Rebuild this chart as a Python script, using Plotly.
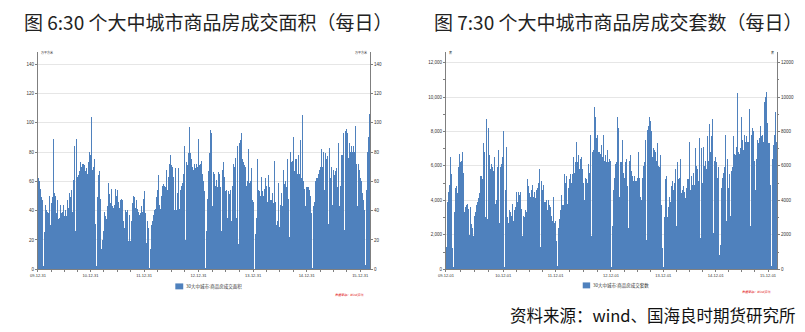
import plotly.graph_objects as go

W, H = 805, 332

# 30 large/medium cities: transaction floor area (10k m2) and transaction units
area_tick_labels = ["09-12-31", "10-12-31", "11-12-31", "12-12-31", "13-12-31", "14-12-31", "15-12-31"]
sets_tick_labels = ["09-12-01", "10-12-01", "11-12-01", "12-12-01", "13-12-01", "14-12-01", "15-12-01"]

area_values = [
    62, 60, 55, 49, 47, 2, 25, 44, 40, 39,
    38, 50, 30, 45, 49, 89, 52, 50, 38, 47,
    34, 35, 44, 38, 39, 44, 36, 40, 36,
    47, 42, 52, 49, 54, 39, 61, 84, 26, 89,
    63, 64, 67, 73, 70, 72, 72, 71, 67, 69,
    65, 73, 80, 78, 104, 68, 70, 75, 71, 31,
    2, 49, 64, 67, 48, 14, 20, 26, 39, 36,
    34, 43, 59, 51, 45, 55, 43, 42, 44, 55,
    50, 54, 46, 42, 47, 48, 47, 33, 28, 40,
    39, 40, 19, 37, 19, 33, 45, 50, 49, 42,
    47, 41, 39, 37, 38, 43, 39, 48, 53,
    38, 18, 33, 28, 1, 14, 30, 33, 37,
    40, 41, 49, 54, 64, 44, 41, 50, 57, 58,
    57, 56, 68, 54, 63, 72, 78, 71, 70, 63,
    40, 69, 40, 52, 69, 41, 54, 57, 59, 65,
    84, 20, 73, 71, 79, 97, 79, 75, 70, 68,
    72, 69, 72, 70, 89, 71, 72, 74, 65, 60,
    53, 1, 26, 48, 55, 67, 79, 95, 93, 43,
    66, 65, 57, 61, 56, 66, 65, 56, 26, 68,
    73, 63,
    53, 54, 35, 53, 51, 54, 33, 57, 72, 70, 76, 35, 84, 17, 86, 88, 93, 75, 73, 71,
    70, 57, 60, 82, 59, 60, 69, 47, 46, 0,
    24, 35, 75, 54, 53, 50, 63, 53, 50, 55, 62, 57, 46, 64, 56, 47, 47, 52, 45, 74,
    46, 30, 33, 59, 29, 44, 52, 43, 68, 58, 60, 56, 75, 48, 22, 80, 73, 74, 90, 67,
    75, 75, 65, 78, 65, 88, 62, 105, 60, 55, 43, 56, 56, 56, 54, 50, 38, 1,
    43, 46, 60, 62, 62, 65, 68, 70, 82, 72, 70, 80, 54, 79, 75, 77, 31, 83, 62, 70,
    44, 68, 64, 67, 69, 56, 86, 43, 57, 78, 78, 93, 27, 94, 96, 93, 76, 86, 80, 84,
    80, 84, 80, 98, 72, 43, 72, 68, 62, 60, 52, 47, 40, 3,
    54, 80, 90, 106,
]

sets_values = [
    1300, 3900, 4500, 4900, 6500, 5500, 1200, 100, 3300, 4700,
    4800, 4400, 5900, 6700, 6200, 6300, 6800, 5600, 3300, 3600,
    3700, 3800, 3500, 2000, 3600, 2600, 2400, 1900, 3100, 3300,
    3700, 3900, 4100, 4400, 5400, 5400, 5200, 7300, 6800, 3000,
    8700, 2900, 8200, 7500, 6600, 5800, 6100, 5900, 5700, 6500,
    3800, 4000, 5900, 6900, 2700, 5900, 6100, 6500, 8000, 100,
    4600, 7100, 3000, 2700, 3400, 3300, 3100, 3800, 2800, 3400,
    3600, 4500, 3900, 4500, 4300, 4500, 3500, 1900, 3100, 3000,
    3400, 3300, 5200, 4800, 4400, 4200, 4600, 4900, 4200, 4500,
    4100, 4600, 4700, 5000, 5800, 1300, 5100, 4600, 4900, 3900,
    3900, 4000, 3400, 4000, 3700, 3600, 3100, 2800, 4200, 2700,
    2800, 1600, 200,
    2400, 2900, 3400, 4300, 3700, 3700, 5500, 5000, 5400, 3800,
    4700, 5200, 5500, 5000, 5500, 5100, 6500, 5600, 6200,
    7400, 6200, 6600, 5800, 6400, 6500, 5800, 5000, 4000, 5300,
    5200, 5000, 6100, 5600, 7800, 1900, 6800, 6900, 9400, 8800,
    7600, 7800, 6800, 6800, 6700, 7200, 6500, 7800, 6300, 6600,
    6200, 6900, 6200, 6400, 6300, 100,
    2500, 4600, 5300, 6100, 6200, 8800, 8200, 4200, 6200, 6200,
    7500, 5600, 5300, 6200, 6400, 4800, 2400, 6300, 6600, 5700,
    5400, 5100, 5400, 5100, 5100, 5300, 6800, 5300, 4200, 4000,
    5300, 6000, 6200, 7500, 1700, 8100, 8300, 8800, 8600, 8000,
    6500, 7000, 6900, 6800, 6300, 6100, 7300, 6000, 5900, 6600,
    3700, 1200, 100,
    3000, 5200, 5400, 3000, 3600, 4200, 3900, 4800, 5100, 4600,
    5000, 5800, 2500, 6200, 5200, 5300, 6400, 4400, 4600, 4800,
    4500, 4100, 4700, 5200, 5200, 7400, 4600, 5400, 4900, 5600,
    4900, 7000, 6000, 5800, 5100, 7600, 1800, 7000, 5000, 7100,
    6000, 6300, 5800, 7700, 6300, 8400, 6800, 7700, 8700, 2100,
    6300, 6500, 6200, 5300, 5900, 800,
    1400, 4700, 5300, 5600, 5900, 7800, 2800, 6400, 4700, 5500,
    3100, 5700, 5900, 7700, 6700, 6600, 7100, 10200, 6800, 6700,
    7000, 8800, 6000, 7500, 6900, 7800, 7400, 7700, 7400, 7400,
    9300, 2500, 7800, 8200, 8000, 6300, 4600, 6400, 7500, 7300,
    7600, 8300, 7700, 7800, 7400, 9700, 10000, 10300, 8500, 7300,
    7300, 4900, 200,
    6400, 7200, 7800, 9100, 7400,
]

area_tick_pos = [-0.5, 52.5, 106.5, 161.5, 216.5, 270.5, 324.5]
sets_tick_pos = [-0.5, 57.5, 110.5, 166.5, 219.5, 272.5, 325.5]

# alpha just under 1 makes plotly snap each 1px bar to whole pixels,
# so the near-zero weeks stay visible as thin white gaps
BAR = "rgba(79,129,189,0.999)"
BAR_SOLID = "#4F81BD"
AXIS = "#7f7f7f"
GRID = "#e6e6e6"
TXT = "#333333"
CJK = "Noto Sans CJK SC"


def fx(px):
    return px / W


def fy(py):
    return 1 - py / H


def minor_between(pos):
    vals = []
    for a, b in zip(pos[:-1], pos[1:]):
        step = (b - a) / 4
        vals += [a + step * k for k in (1, 2, 3)]
    step = (pos[-1] - pos[-2]) / 4
    vals.append(pos[-1] + step)
    return vals


bar_marker = dict(color=BAR, line=dict(width=0))

fig = go.Figure()
fig.add_trace(go.Bar(x=list(range(len(area_values))), y=area_values, marker=bar_marker,
                     xaxis="x", yaxis="y", name="30大中城市:商品房成交面积", showlegend=False))
fig.add_trace(go.Scatter(x=[0], y=[0], xaxis="x", yaxis="y2", mode="markers", marker=dict(opacity=0),
                         hoverinfo="skip", showlegend=False))
fig.add_trace(go.Bar(x=list(range(len(sets_values))), y=sets_values, marker=bar_marker,
                     xaxis="x2", yaxis="y3", name="30大中城市:商品房成交套数", showlegend=False))
fig.add_trace(go.Scatter(x=[0], y=[0], xaxis="x2", yaxis="y4", mode="markers", marker=dict(opacity=0),
                         hoverinfo="skip", showlegend=False))

ydom = [fy(271.7), fy(52.7)]
tickfont = dict(family="Liberation Sans", size=4.5, color=TXT)

common_x = dict(ticks="outside", ticklen=2, tickcolor=AXIS, showline=True, linecolor=AXIS, linewidth=1,
                showgrid=False, zeroline=False, tickfont=dict(family="Liberation Sans", size=4, color=TXT),
                tickmode="array")
common_y = dict(ticks="outside", ticklen=2, tickcolor=AXIS, showline=True, linecolor=AXIS, linewidth=1,
                zeroline=False, tickfont=tickfont, domain=ydom)

area_max = 148.3
sets_max = 12600

fig.update_layout(
    width=W, height=H, margin=dict(l=0, r=0, t=0, b=0), autosize=False,
    paper_bgcolor="white", plot_bgcolor="white", bargap=0, showlegend=False,
    xaxis=dict(domain=[fx(30.3), fx(365.7)], anchor="y", range=[-0.5, len(area_values) - 0.5],
               tickvals=area_tick_pos, ticktext=area_tick_labels,
               minor=dict(tickvals=minor_between(area_tick_pos), ticks="outside", ticklen=1.5, tickcolor=AXIS),
               **common_x),
    yaxis=dict(anchor="x", range=[0, area_max], dtick=20, tick0=0, showgrid=True, gridcolor=GRID, gridwidth=1,
               **common_y),
    yaxis2=dict(anchor="x", overlaying="y", side="right", range=[0, area_max], dtick=20, tick0=0,
                showgrid=False, **common_y),
    xaxis2=dict(domain=[fx(442.3), fx(776.7)], anchor="y3", range=[-0.5, len(sets_values) - 0.5],
                tickvals=sets_tick_pos, ticktext=sets_tick_labels,
                minor=dict(tickvals=minor_between(sets_tick_pos), ticks="outside", ticklen=1.5, tickcolor=AXIS),
                **common_x),
    yaxis3=dict(anchor="x2", range=[0, sets_max], dtick=2000, tick0=0, tickformat=",d", showgrid=True,
                gridcolor=GRID, gridwidth=1,
                minor=dict(dtick=1000, ticks="outside", ticklen=1.5, tickcolor=AXIS, showgrid=False),
                **common_y),
    yaxis4=dict(anchor="x2", overlaying="y3", side="right", range=[0, sets_max], dtick=2000, tick0=0,
                tickformat="d", showgrid=False,
                minor=dict(dtick=1000, ticks="outside", ticklen=1.5, tickcolor=AXIS, showgrid=False),
                **common_y),
)

annotations = [
    dict(text="图 6:30 个大中城市商品房成交面积（每日）", x=fx(14), y=fy(22), xanchor="left", yanchor="middle",
         font=dict(family=CJK, size=19, color="#222222")),
    dict(text="图 7:30 个大中城市商品房成交套数（每日）", x=fx(428), y=fy(22), xanchor="left", yanchor="middle",
         font=dict(family=CJK, size=19, color="#222222")),
    dict(text="资料来源：wind、国海良时期货研究所", x=fx(798), y=fy(318), xanchor="right", yanchor="middle",
         font=dict(family=CJK, size=16.5, color="#111111")),
    # unit captions at the top of the value axes
    dict(text="万平方米", x=fx(31.5), y=fy(52.5), xanchor="left", yanchor="middle",
         font=dict(family=CJK, size=3, color=TXT)),
    dict(text="万平方米", x=fx(364.5), y=fy(52.5), xanchor="right", yanchor="middle",
         font=dict(family=CJK, size=3, color=TXT)),
    dict(text="套", x=fx(443.5), y=fy(52.5), xanchor="left", yanchor="middle",
         font=dict(family=CJK, size=3, color=TXT)),
    dict(text="套", x=fx(775.5), y=fy(52.5), xanchor="right", yanchor="middle",
         font=dict(family=CJK, size=3, color=TXT)),
    # legends
    dict(text="30大中城市:商品房成交面积", x=fx(178), y=fy(289), xanchor="left", yanchor="middle",
         font=dict(family=CJK, size=4.5, color=TXT)),
    dict(text="30大中城市:商品房成交套数", x=fx(589), y=fy(288), xanchor="left", yanchor="middle",
         font=dict(family=CJK, size=4.5, color=TXT)),
    # data source captions
    dict(text="数据来源：Wind资讯", x=fx(362), y=fy(298), xanchor="right", yanchor="middle",
         font=dict(family=CJK, size=3, color="#e00000", style="italic")),
    dict(text="数据来源：Wind资讯", x=fx(773), y=fy(295), xanchor="right", yanchor="middle",
         font=dict(family=CJK, size=3, color="#e00000", style="italic")),
]
for a in annotations:
    a.update(xref="paper", yref="paper", showarrow=False)
fig.update_layout(annotations=annotations)

shapes = [
    dict(type="rect", xref="paper", yref="paper", x0=fx(169), x1=fx(177), y0=fy(292), y1=fy(286),
         fillcolor=BAR_SOLID, line=dict(width=0)),
    dict(type="rect", xref="paper", yref="paper", x0=fx(580.5), x1=fx(588), y0=fy(291), y1=fy(285),
         fillcolor=BAR_SOLID, line=dict(width=0)),
]
fig.update_layout(shapes=shapes)

fig.write_html("out.html")
